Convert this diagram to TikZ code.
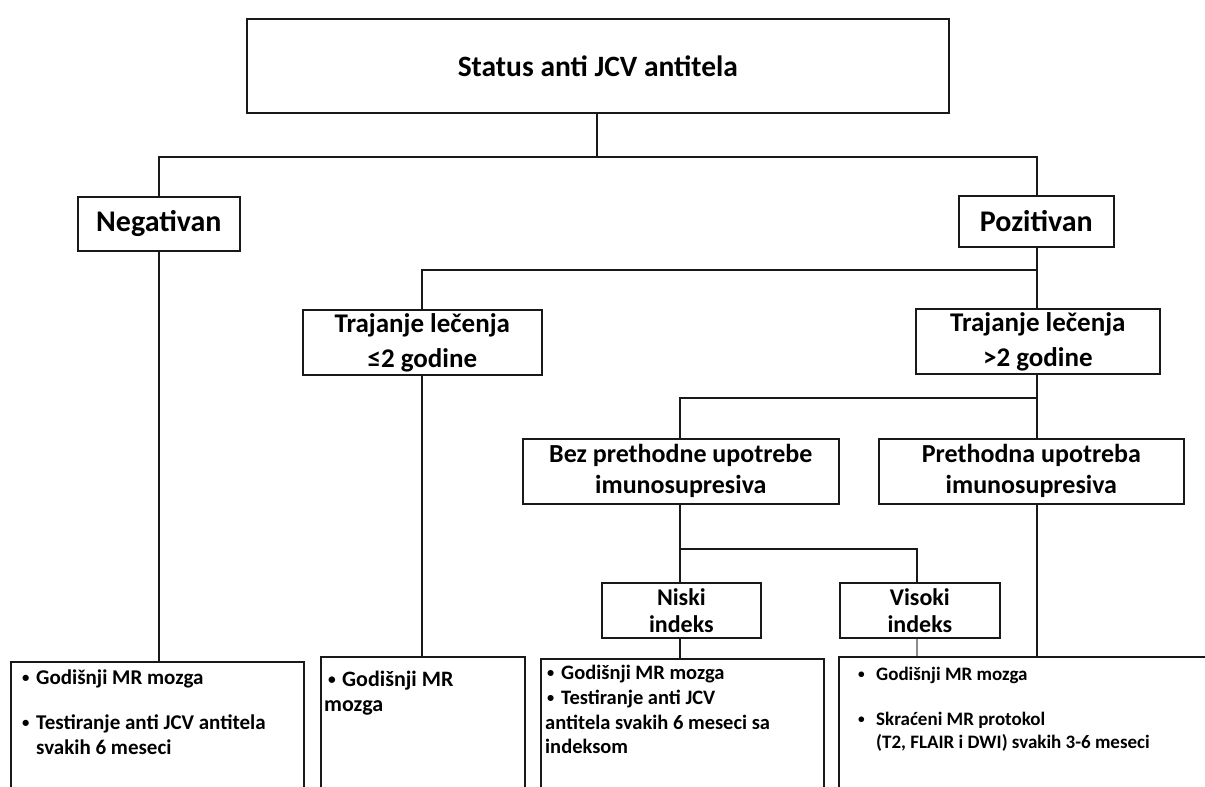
\documentclass[tikz,border=0pt]{standalone}
\usepackage{fontspec}
\setmainfont{Carlito}
\newcommand{\blt}{\raisebox{0.15ex}{\scalebox{0.7}{•}}}
\begin{document}
\begin{tikzpicture}[x=1pt,y=-1pt,
  box/.style={draw=black!90, line width=1.7pt, fill=white, inner sep=0pt, align=center,
    font=\bfseries\fontsize{30}{34}\selectfont},
  mbox/.style={box, font=\bfseries\fontsize{27}{35}\selectfont},
  sbox/.style={box, font=\bfseries\fontsize{26}{31}\selectfont},
  ibox/.style={box, font=\bfseries\fontsize{24}{27}\selectfont},
  bbox/.style={draw=black!90, line width=1.7pt, fill=white, inner sep=0pt, anchor=north west},
  bt/.style={inner sep=0pt, anchor=base west},
  fa/.style={font=\bfseries\fontsize{21}{25}\selectfont},
  fb/.style={font=\bfseries\fontsize{22}{25}\selectfont},
  fc/.style={font=\bfseries\fontsize{20.5}{24}\selectfont},
  fd/.style={font=\bfseries\fontsize{19}{23}\selectfont},
  conn/.style={draw=black!90, line width=1.6pt},
  faint/.style={draw=black!45, line width=1.6pt}]
\useasboundingbox (0,0) rectangle (1205,787);
\clip (0,0) rectangle (1205,787);
\fill[white] (0,0) rectangle (1205,787);

% nodes
\node[box, font=\bfseries\fontsize{29.5}{34}\selectfont, minimum width=702, minimum height=94, anchor=north west] (status) at (246,18) {Status anti JCV antitela};
\node[box, minimum width=162, minimum height=54, anchor=north west] (neg) at (77,196) {Negativan};
\node[box, minimum width=155, minimum height=51, anchor=north west] (poz) at (958,195) {Pozitivan};
\node[mbox, minimum width=239, minimum height=65, anchor=north west] (tle) at (302,309) {Trajanje lečenja\\≤2 godine};
\node[mbox, minimum width=244, minimum height=65, anchor=north west] (tgt) at (915,308) {Trajanje lečenja\\>2 godine};
\node[sbox, minimum width=316, minimum height=65, anchor=north west] (bez) at (522,438) {Bez prethodne upotrebe\\imunosupresiva};
\node[sbox, minimum width=305, minimum height=65, anchor=north west] (pre) at (878,438) {Prethodna upotreba\\imunosupresiva};
\node[ibox, minimum width=159, minimum height=55, anchor=north west] (nis) at (601,582) {Niski\\indeks};
\node[ibox, minimum width=160, minimum height=55, anchor=north west] (vis) at (839,582) {Visoki\\indeks};

\node[bbox, minimum width=293, minimum height=150] (b1) at (10,661) {};
\node[bbox, minimum width=204, minimum height=150] (b2) at (320,656) {};
\node[bbox, minimum width=283, minimum height=150] (b3) at (540,658) {};
\node[bbox, minimum width=380, minimum height=150] (b4) at (838,656) {};

% box 1 text
\node[bt, fa] (t1a) at (22,684) {\blt};
\node[bt, fa] (t1b) at (36,684) {Godišnji MR mozga};
\node[bt, fa] (t1c) at (22,729) {\blt};
\node[bt, fa] (t1d) at (36,729) {Testiranje anti JCV antitela};
\node[bt, fa] (t1e) at (36,754) {svakih 6 meseci};
% box 2 text
\node[bt, fb] (t2a) at (328,686) {\blt};
\node[bt, fb] (t2b) at (342,686) {Godišnji MR};
\node[bt, fb] (t2c) at (324,711) {mozga};
% box 3 text
\node[bt, fc] (t3a) at (547,679) {\blt};
\node[bt, fc] (t3b) at (561,679) {Godišnji MR mozga};
\node[bt, fc] (t3c) at (547,704) {\blt};
\node[bt, fc] (t3d) at (561,704) {Testiranje anti JCV};
\node[bt, fc] (t3e) at (545,729) {antitela svakih 6 meseci sa};
\node[bt, fc] (t3f) at (545,753) {indeksom};
% box 4 text
\node[bt, fd] (t4a) at (858,680) {\blt};
\node[bt, fd] (t4b) at (876,680) {Godišnji MR mozga};
\node[bt, fd] (t4c) at (858,725) {\blt};
\node[bt, fd] (t4d) at (876,725) {Skraćeni MR protokol};
\node[bt, fd] (t4e) at (876,748) {(T2, FLAIR i DWI) svakih 3-6 meseci};

% connectors
\coordinate (j1) at (597,157);
\coordinate (j2) at (422,270);
\coordinate (j3) at (1037,398);
\coordinate (j4) at (680,398);
\coordinate (j5) at (680,549);
\coordinate (j6) at (917,549);
\draw[conn] (status.south -| j1) -- (j1);
\draw[conn] (neg.north) |- (j1);
\draw[conn] (poz.north -| j3) |- (j1);
\draw[conn] (neg.south) -- (neg.south |- b1.north);
\draw[conn] (poz.south -| j3) -- (j3 |- tgt.north);
\draw[conn] (j3 |- j2) -- (j2) -- (j2 |- tle.north);
\draw[conn] (j2 |- tle.south) -- (j2 |- b2.north);
\draw[conn] (j3 |- tgt.south) -- (j3 |- pre.north);
\draw[conn] (j3) -- (j4) -- (j4 |- bez.north);
\draw[conn] (j3 |- pre.south) -- (j3 |- b4.north);
\draw[conn] (j4 |- bez.south) -- (j5) -- (j5 |- nis.north);
\draw[conn] (j5) -- (j6) -- (j6 |- vis.north);
\draw[conn] (j5 |- nis.south) -- (j5 |- b3.north);
\draw[faint] (j6 |- vis.south) -- (j6 |- b4.north);
\end{tikzpicture}
\end{document}
